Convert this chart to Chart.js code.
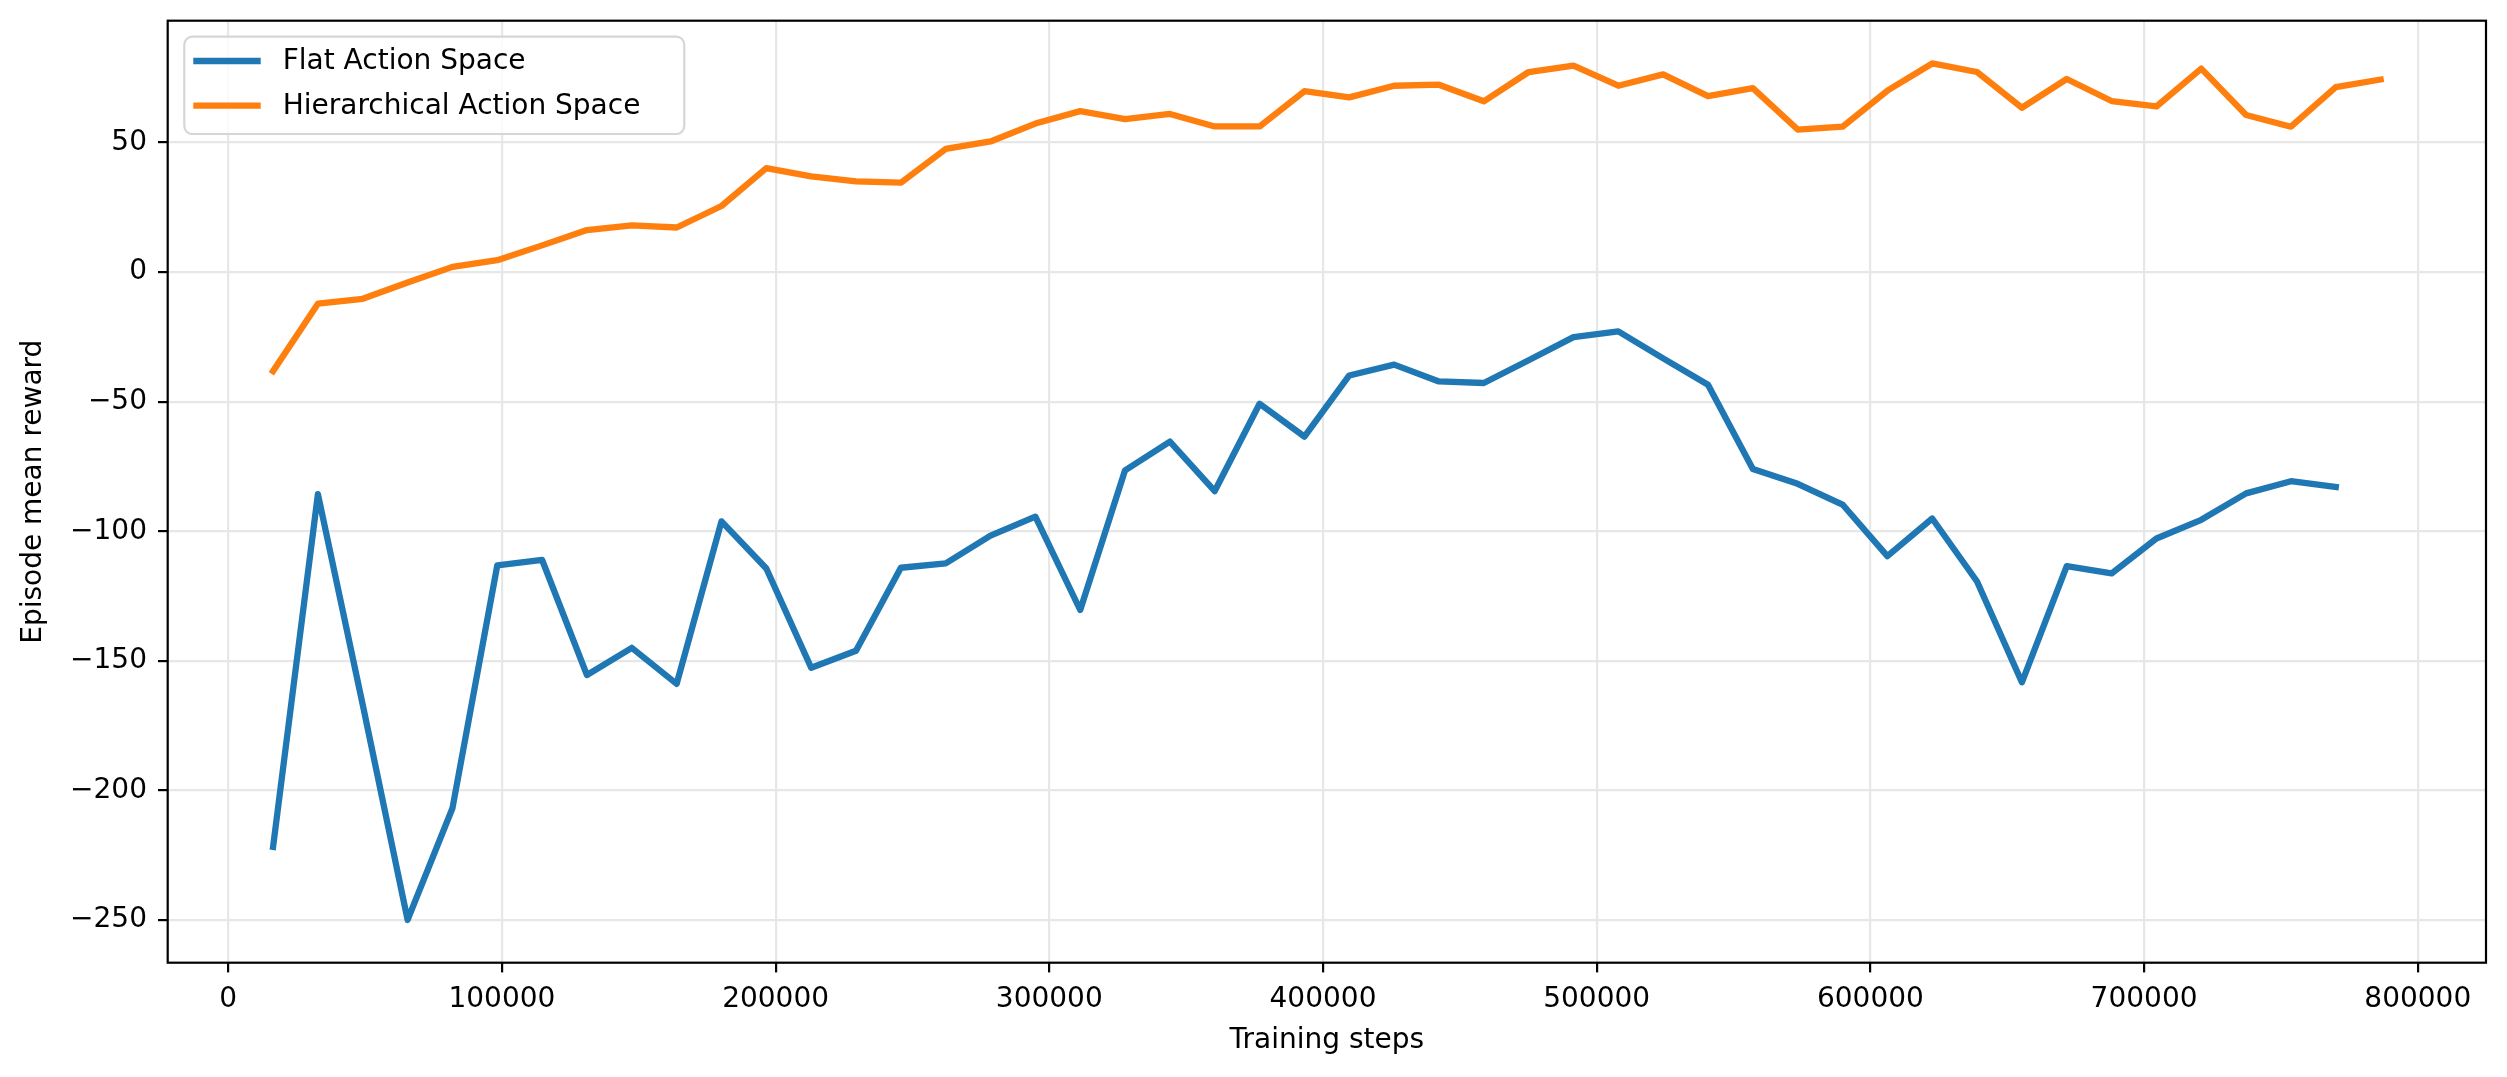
<!DOCTYPE html>
<html>
<head>
<meta charset="utf-8">
<script src="https://cdn.jsdelivr.net/npm/chart.js@4.4.1/dist/chart.umd.min.js"></script>
<style>
  html,body{margin:0;padding:0;background:#fff;}
  #wrap{width:2507px;height:1077px;}
</style>
</head>
<body>
<div id="wrap"><canvas id="c" width="2507" height="1077"></canvas></div>
<script>
// training steps (one eval every 16384 steps)
const steps = [16384, 32768, 49152, 65536, 81920, 98304, 114688, 131072, 147456, 163840,
  180224, 196608, 212992, 229376, 245760, 262144, 278528, 294912, 311296, 327680,
  344064, 360448, 376832, 393216, 409600, 425984, 442368, 458752, 475136, 491520,
  507904, 524288, 540672, 557056, 573440, 589824, 606208, 622592, 638976, 655360,
  671744, 688128, 704512, 720896, 737280, 753664, 770048, 786432];

const flatReward = [-221.8, -85.7, -167, -250, -206.9, -113.2, -111.1, -155.5, -145.0, -158.9,
  -96.2, -114.4, -152.7, -146.1, -114.1, -112.4, -101.7, -94.4, -130.4, -76.5,
  -65.4, -84.5, -50.8, -63.5, -39.9, -35.7, -42.2, -42.8, -34.0, -25.1,
  -22.9, -33.3, -43.5, -76.0, -81.7, -89.7, -109.6, -95.1, -119.4, -158.3,
  -113.5, -116.3, -102.8, -95.6, -85.4, -80.7, -82.9];

const hierReward = [-38.2, -12.2, -10.3, -4.0, 2.0, 4.6, 10.3, 16.2, 18.0, 17.2,
  25.5, 40.1, 36.9, 35.0, 34.5, 47.5, 50.4, 57.3, 62.1, 59.0,
  61.0, 56.2, 56.2, 69.8, 67.4, 71.9, 72.3, 65.9, 77.2, 79.7,
  71.9, 76.3, 67.9, 71.0, 55.0, 56.1, 70.0, 80.5, 77.2, 63.4,
  74.5, 66.0, 63.9, 78.5, 60.6, 56.1, 71.4, 74.3];

const seriesNames = ['Flat Action Space', 'Hierarchical Action Space'];
const seriesColors = ['#1f77b4', '#ff7f0e'];
const xTicks = [0, 100000, 200000, 300000, 400000, 500000, 600000, 700000, 800000];
const yTicks = [-250, -200, -150, -100, -50, 0, 50];

const FONT = "'DejaVu Sans', sans-serif";
const AREA = {left:167.7, top:20.7, right:2486, bottom:962.7};
const LW = 2.2;      // spine / grid width
const LINE_W = 6.3;  // data line width

function pts(vals){ return vals.map((v,i)=>({x:steps[i], y:v})); }
function num(v){ return v < 0 ? '\u2212' + Math.abs(v) : String(v); }

// black box round the plot, on top of the lines
const frame = {
  id:'frame',
  afterDatasetsDraw(chart){
    const {ctx, chartArea:a} = chart;
    ctx.save();
    ctx.strokeStyle = '#000'; ctx.lineWidth = LW;
    ctx.strokeRect(a.left, a.top, a.right-a.left, a.bottom-a.top);
    ctx.restore();
  }
};

// matplotlib style legend, upper left
const legendBox = {
  id:'legendBox',
  afterDraw(chart){
    const {ctx, chartArea:a} = chart;
    const x = a.left + 16.6, y = a.top + 16, w = 500, h = 97.3, r = 8;
    ctx.save();
    ctx.beginPath();
    ctx.roundRect(x, y, w, h, r);
    ctx.fillStyle = 'rgba(255,255,255,0.8)';
    ctx.fill();
    ctx.strokeStyle = '#d6d6d6'; ctx.lineWidth = LW;
    ctx.stroke();
    ctx.font = '28px ' + FONT;
    ctx.textBaseline = 'middle';
    ctx.fillStyle = '#000';
    chart.data.datasets.forEach((ds,i)=>{
      const cy = y + 24.3 + i*44.7;
      ctx.beginPath();
      ctx.moveTo(x + 9, cy); ctx.lineTo(x + 76.4, cy);
      ctx.strokeStyle = ds.borderColor; ctx.lineWidth = LINE_W; ctx.lineCap = 'butt';
      ctx.stroke();
      ctx.fillText(ds.label, x + 98.4, cy + 1);
    });
    ctx.restore();
  }
};

const gridOpts = {color:'#e7e7e7', lineWidth:LW, tickColor:'#000', tickWidth:LW, tickLength:9.7, drawTicks:true};

new Chart(document.getElementById('c').getContext('2d'), {
  type:'line',
  data:{
    datasets:[
      { label:seriesNames[0], data:pts(flatReward), borderColor:seriesColors[0], backgroundColor:seriesColors[0],
        borderWidth:LINE_W, pointRadius:0, tension:0, borderJoinStyle:'round', borderCapStyle:'square', fill:false },
      { label:seriesNames[1], data:pts(hierReward), borderColor:seriesColors[1], backgroundColor:seriesColors[1],
        borderWidth:LINE_W, pointRadius:0, tension:0, borderJoinStyle:'round', borderCapStyle:'square', fill:false }
    ]
  },
  options:{
    responsive:false, animation:false, devicePixelRatio:1,
    layout:{ padding:{ left:0, top:AREA.top, right:2507-AREA.right, bottom:0 } },
    plugins:{ legend:{display:false}, tooltip:{enabled:false} },
    scales:{
      x:{
        type:'linear', min:-22118, max:824934,
        grid:gridOpts, border:{display:false},
        afterBuildTicks:s=>{ s.ticks = xTicks.map(v=>({value:v})); },
        afterFit:s=>{ s.height = 1077 - AREA.bottom; s.paddingLeft = 0; s.paddingRight = 0; },
        ticks:{ font:{family:FONT, size:28}, color:'#000', padding:11, maxRotation:0, autoSkip:false, callback:v=>num(v) },
        title:{ display:true, text:'Training steps', color:'#000', font:{family:FONT, size:28}, padding:{top:0, bottom:19} }
      },
      y:{
        type:'linear', min:-266.5, max:97,
        grid:gridOpts, border:{display:false},
        afterBuildTicks:s=>{ s.ticks = yTicks.map(v=>({value:v})); },
        afterFit:s=>{ s.width = AREA.left; s.paddingTop = 0; s.paddingBottom = 0; },
        ticks:{ font:{family:FONT, size:28}, color:'#000', padding:11, autoSkip:false, callback:v=>num(v) },
        title:{ display:true, text:'Episode mean reward', color:'#000', font:{family:FONT, size:28}, padding:{top:17, bottom:0} }
      }
    }
  },
  plugins:[frame, legendBox]
});
</script>
</body>
</html>
